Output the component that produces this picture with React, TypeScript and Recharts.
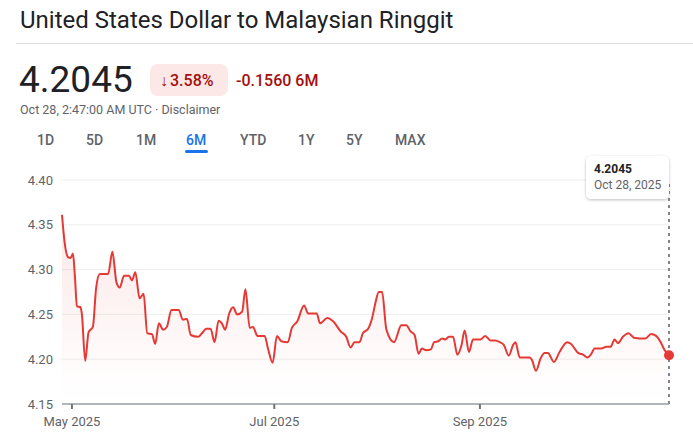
import { Area, CartesianGrid, ComposedChart, ReferenceDot, ReferenceLine, XAxis, YAxis } from "recharts";

// days since Apr 28, 2025
const days = [
  0, 0.8, 1.8, 2.6, 3.3, 3.9, 4.5, 5.6, 6.0, 7.0, 8.0, 9.3, 10.3, 11.4, 13.9, 15.2, 16.4, 17.4, 18.7, 20.2,
  21.1, 22.1, 23.4, 24.6, 25.7, 27.1, 28.1, 29.2, 30.5, 31.6, 33.0, 35.2, 36.4, 37.7, 38.8, 41.0, 42.2, 43.5,
  44.8, 46.0, 47.2, 48.2, 49.2, 50.4, 51.6, 52.8, 54.3, 55.3, 56.6, 57.6, 58.9, 61.1, 62.1, 63.5, 64.8, 66.1,
  68.1, 69.3, 70.9, 73.0, 74.2, 76.8, 77.8, 80.0, 81.8, 84.0, 85.7, 87.0, 88.2, 89.7, 90.7, 92.3, 93.5, 94.5,
  95.5, 96.5, 97.8, 100.1, 102.3, 103.8, 105.1, 106.3, 107.5, 108.5, 109.8, 111.2, 112.2, 113.4, 114.6, 115.6,
  116.6, 117.9, 119.2, 120.4, 121.4, 122.7, 123.9, 126.2, 127.6, 129.2, 130.6, 132.0, 133.2, 134.7, 136.0,
  136.7, 138.0, 141.0, 141.7, 142.9, 144.3, 145.5, 146.5, 148.3, 150.0, 152.3, 153.5, 155.6, 157.1, 158.4,
  159.4, 160.6, 162.6, 164.1, 165.4, 166.6, 167.6, 169.1, 170.8, 172.4, 175.8, 177.6, 179.1, 180.5, 181.7, 183,
];

const rates = [
  4.361, 4.33, 4.314, 4.313, 4.318, 4.292, 4.259, 4.258, 4.25, 4.198, 4.23, 4.236, 4.28, 4.295, 4.295, 4.32,
  4.286, 4.28, 4.293, 4.293, 4.288, 4.297, 4.268, 4.273, 4.229, 4.228, 4.217, 4.24, 4.233, 4.236, 4.255, 4.255,
  4.244, 4.245, 4.227, 4.225, 4.229, 4.234, 4.234, 4.219, 4.243, 4.24, 4.233, 4.251, 4.258, 4.25, 4.253, 4.278,
  4.235, 4.236, 4.226, 4.226, 4.212, 4.196, 4.226, 4.22, 4.219, 4.235, 4.242, 4.26, 4.251, 4.251, 4.24, 4.246,
  4.242, 4.231, 4.225, 4.213, 4.219, 4.219, 4.229, 4.234, 4.246, 4.263, 4.275, 4.275, 4.233, 4.219, 4.238,
  4.238, 4.231, 4.227, 4.206, 4.212, 4.21, 4.211, 4.219, 4.22, 4.223, 4.222, 4.225, 4.225, 4.205, 4.215, 4.232,
  4.208, 4.222, 4.222, 4.226, 4.221, 4.221, 4.219, 4.216, 4.204, 4.216, 4.219, 4.202, 4.202, 4.199, 4.187,
  4.201, 4.207, 4.207, 4.197, 4.208, 4.219, 4.217, 4.207, 4.205, 4.202, 4.205, 4.212, 4.212, 4.214, 4.214,
  4.222, 4.218, 4.225, 4.229, 4.224, 4.223, 4.228, 4.226, 4.219, 4.21, 4.2045,
];

const xTickDays = [3, 64, 126];
const xTickLabels = ["May 2025", "Jul 2025", "Sep 2025"];
const yTicks = [4.15, 4.2, 4.25, 4.3, 4.35, 4.4];
const ranges = ["1D", "5D", "1M", "6M", "YTD", "1Y", "5Y", "MAX"];
const rangeLeft = [37, 86, 136, 186, 240, 298, 346, 395];

const lastDay = days[days.length - 1];
const lastRate = rates[rates.length - 1];
const data = days.map((day, i) => ({ day, rate: rates[i] }));

const RED = "#e53935";
const GREY = "#5f6368";

function Txt({ x, base, size, children, style }: any) {
  return (
    <div
      style={{
        position: "absolute",
        left: x,
        top: base - 0.8415 * size,
        fontSize: size,
        lineHeight: `${size}px`,
        whiteSpace: "nowrap",
        ...style,
      }}
    >
      {children}
    </div>
  );
}

function TooltipLabel({ viewBox }: any) {
  const x = viewBox.x;
  const y = viewBox.y;
  return (
    <g>
      <defs>
        <filter id="tipShadow" x="-20%" y="-20%" width="140%" height="160%">
          <feDropShadow dx="0" dy="1" stdDeviation="1.5" floodColor="#000" floodOpacity="0.25" />
        </filter>
      </defs>
      <rect x={x - 83} y={y - 24} width={83} height={43} rx={5} fill="#fff" filter="url(#tipShadow)" />
      <text x={x - 75} y={y - 7} fontSize={12} fontWeight={700} fill="#202124" fontFamily="Roboto">
        {lastRate.toFixed(4)}
      </text>
      <text x={x - 75} y={y + 9} fontSize={12} fill={GREY} fontFamily="Roboto">
        Oct 28, 2025
      </text>
    </g>
  );
}

export default function App() {
  return (
    <div
      style={{
        position: "absolute",
        left: 0,
        top: 0,
        width: 693,
        height: 441,
        background: "#fff",
        fontFamily: "Roboto, sans-serif",
        color: "#202124",
        overflow: "hidden",
      }}
    >
      <ComposedChart
        width={693}
        height={441}
        data={data}
        margin={{ top: 180, right: 24, bottom: 7, left: 0 }}
        style={{ position: "absolute", left: 0, top: 0 }}
      >
        <defs>
          <linearGradient id="fxFill" x1="0" y1="0" x2="0" y2="1">
            <stop offset="0%" stopColor={RED} stopOpacity={0.2} />
            <stop offset="85%" stopColor={RED} stopOpacity={0.02} />
            <stop offset="100%" stopColor={RED} stopOpacity={0} />
          </linearGradient>
        </defs>
        <CartesianGrid vertical={false} stroke="#eeeeee" />
        <XAxis
          dataKey="day"
          type="number"
          domain={[0, lastDay]}
          ticks={xTickDays}
          tickFormatter={(v: number) => xTickLabels[xTickDays.indexOf(v)]}
          height={30}
          axisLine={{ stroke: "#9aa0a6", strokeWidth: 1.5 }}
          tickLine={{ stroke: "#70757a", strokeWidth: 2 }}
          tickSize={5}
          tickMargin={8}
          tick={{ fill: GREY, fontSize: 13, fontFamily: "Roboto" }}
        />
        <YAxis
          domain={[4.15, 4.4]}
          ticks={yTicks}
          tickFormatter={(v: number) => v.toFixed(2)}
          width={62}
          axisLine={false}
          tickLine={false}
          tickSize={0}
          tickMargin={9}
          tick={{ fill: GREY, fontSize: 13, fontFamily: "Roboto" }}
        />
        <Area
          type="monotone"
          dataKey="rate"
          stroke={RED}
          strokeWidth={2}
          fill="url(#fxFill)"
          baseValue={4.15}
          dot={false}
          activeDot={false}
          isAnimationActive={false}
        />
        <ReferenceLine
          x={lastDay}
          stroke="#80868b"
          strokeWidth={2}
          strokeDasharray="3 4"
          label={<TooltipLabel />}
        />
        <ReferenceDot x={lastDay} y={lastRate} r={5} fill={RED} stroke={RED} strokeWidth={0} />
      </ComposedChart>

      <Txt x={20} base={28} size={24}>United States Dollar to Malaysian Ringgit</Txt>
      <div style={{ position: "absolute", left: 16, top: 43, width: 677, height: 1, background: "#e0e0e0" }} />

      <Txt x={19} base={92} size={37}>4.2045</Txt>
      <div style={{ position: "absolute", left: 150, top: 64, width: 78, height: 32, borderRadius: 8, background: "#fce8e6" }} />
      <Txt x={160} base={86} size={16} style={{ color: "#a50e0e", fontWeight: 500 }}>
        <span style={{ fontWeight: 400, marginRight: 2 }}>↓</span>3.58%
      </Txt>
      <Txt x={236} base={86} size={16} style={{ color: "#a50e0e", fontWeight: 500 }}>-0.1560 6M</Txt>
      <Txt x={20} base={115} size={12.5} style={{ color: GREY }}>Oct 28, 2:47:00 AM UTC · Disclaimer</Txt>

      {ranges.map((r, i) => (
        <Txt key={r} x={rangeLeft[i]} base={145} size={14} style={{ color: r === "6M" ? "#1a73e8" : GREY, fontWeight: 500 }}>
          {r}
        </Txt>
      ))}
      <div style={{ position: "absolute", left: 185, top: 150, width: 23, height: 3, borderRadius: 2, background: "#1a73e8" }} />
    </div>
  );
}
